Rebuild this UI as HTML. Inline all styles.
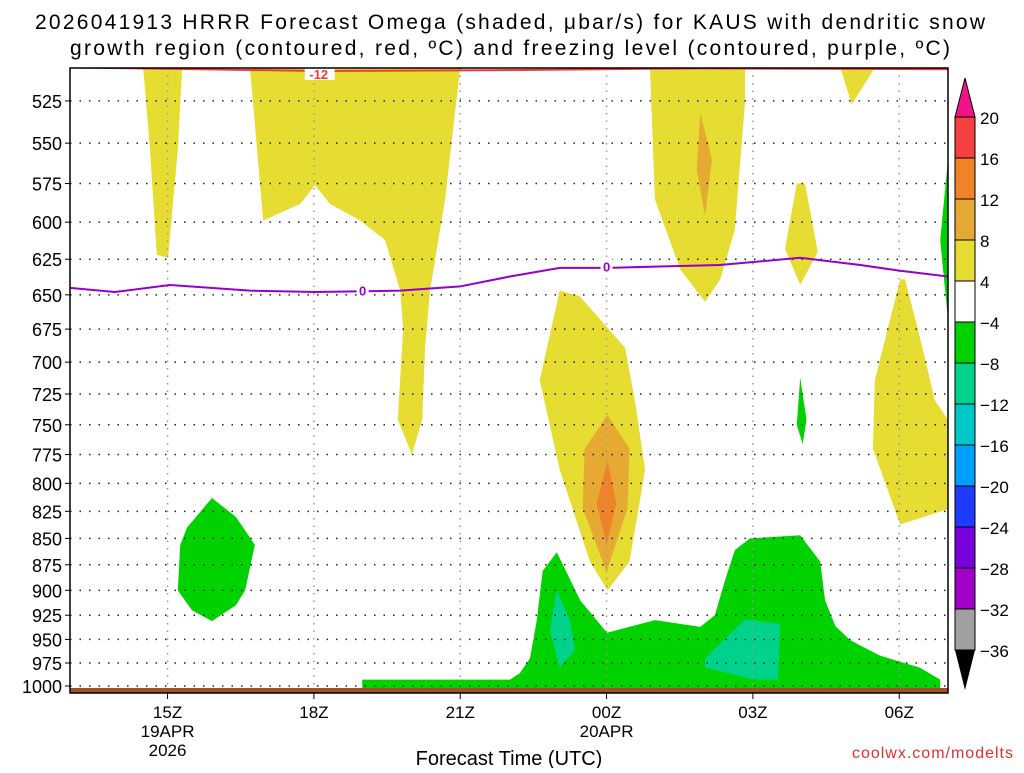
<!DOCTYPE html>
<html><head><meta charset="utf-8"><style>
body{margin:0;background:#fff;width:1024px;height:768px;overflow:hidden}
svg text{font-family:"Liberation Sans",sans-serif}
</style></head><body>
<svg id="c" width="1024" height="768"></svg>
<script>
const pressureTicks=[525,550,575,600,625,650,675,700,725,750,775,800,825,850,875,900,925,950,975,1000];
const timeTickHours=[2,5,8,11,14,17];
const timeTickLabels=["15Z","18Z","21Z","00Z","03Z","06Z"];
const cbLevels=[20,16,12,8,4,-4,-8,-12,-16,-20,-24,-28,-32,-36];
const cbColors=["#f54040","#f08228","#e6aa32","#e6dc32","#ffffff","#00d200","#00d28c","#00c8c8","#00a0ff","#1e3cff","#7800dc","#a000c8","#a0a0a0"];
const yellowShapes=[
 [[1.5,506],[2.3,506],[2.21,554],[2.01,624],[1.78,622],[1.64,554]],
 [[3.69,506],[3.96,599],[4.72,588],[5.02,576],[5.33,588],[5.95,599],[6.46,612],[6.77,647],[6.83,675],[6.72,746],[7.01,775],[7.22,746],[7.28,689],[7.38,647],[7.69,585],[8.0,506]],
 [[11.89,506],[11.99,585],[12.51,632],[13.02,655],[13.33,639],[13.63,605],[13.84,525],[13.84,506]],
 [[14.9,575],[14.66,618],[14.97,643],[15.33,620],[15.07,575]],
 [[15.79,506],[16.5,506],[16.03,527]],
 [[17.02,639],[16.5,714],[16.46,770],[17.02,837],[18,823],[18,746],[17.73,730],[17.43,682],[17.12,639]],
 [[10.04,647],[9.63,714],[10.04,788],[10.66,872],[11.02,900],[11.47,872],[11.79,788],[11.58,730],[11.38,689],[10.45,651]]
];
const amberShapes=[[[11.02,742],[10.55,770],[10.51,822],[11.0,882],[11.43,822],[11.47,770]],
 [[12.92,532],[13.16,560],[13.02,596],[12.85,566]]];
const orangeShapes=[[[11.02,780],[10.8,818],[11.0,856],[11.2,818]]];
const greenShapes=[
 [[2.91,813],[2.4,840],[2.26,856],[2.21,900],[2.5,920],[2.91,931],[3.4,915],[3.59,900],[3.79,856],[3.4,830]],
 [[5.99,1004],[5.99,993],[9.02,993],[9.22,986],[9.43,970],[9.57,930],[9.69,881],[9.98,863],[10.46,910],[11.01,943],[11.99,930],[12.92,937],[13.22,925],[13.43,890],[13.63,861],[13.94,850],[14.97,847],[15.38,872],[15.48,910],[15.69,936],[16,951],[16.6,967],[17.42,980],[17.84,993],[17.84,1004]],
 [[18,560],[17.84,612],[18,668]],
 [[14.97,712],[14.9,750],[15.02,766],[15.1,746]]
];
const tealShapes=[[[9.98,900],[9.84,940],[10.04,980],[10.35,961],[10.25,930]],
 [[13.02,970],[13.84,929],[14.56,934],[14.51,993],[14.04,993],[13.02,980]]];
const freezeHours=[0,0.92,2.05,3.69,5.02,6.77,8.0,9.02,10.04,11.07,12.09,13.32,14.97,16.2,17.02,18];
const freezeP=[645,648,643,647,648,647,644,637,631,631,630,629,624,629,633,637];
const dgzHours=[0,2.67,5.12,8.82,10.86,12.91,18];
const dgzP=[506,507,508,507.5,507,506.5,507];

const NS="http://www.w3.org/2000/svg";
const svg=document.getElementById('c');
const X0=70,X1=948;
function x(t){return X0+t*(X1-X0)/18;}
function y(p){return 686-Math.log(1000/p)*908;}
function el(tag,a,parent){const e=document.createElementNS(NS,tag);for(const k in a)e.setAttribute(k,a[k]);(parent||svg).appendChild(e);return e;}
function txt(s,a,parent){const e=el('text',a,parent);e.textContent=s;return e;}
el('rect',{x:X0,y:68,width:X1-X0,height:625,fill:'#fff'});
const clip=el('clipPath',{id:'pc'});el('rect',{x:X0,y:68,width:X1-X0,height:625},clip);
const g=el('g',{'clip-path':'url(#pc)'});
function poly(pts,fill,name){const p=el('polygon',{points:pts.map(q=>x(q[0])+','+y(q[1])).join(' '),fill:fill},g);

}
yellowShapes.forEach(s=>poly(s,'#e6dc32','omega-4-8'));
amberShapes.forEach(s=>poly(s,'#e6aa32','omega-8-12'));
orangeShapes.forEach(s=>poly(s,'#f08228','omega-12-16'));
greenShapes.forEach(s=>poly(s,'#00d200','omega-neg4-neg8'));
tealShapes.forEach(s=>poly(s,'#00d28c','omega-neg8-neg12'));
pressureTicks.forEach(p=>{const l=el('line',{x1:X0,x2:X1,y1:y(p),y2:y(p),stroke:'#222','stroke-width':1.5,'stroke-dasharray':'1.5 8'},g);

});
timeTickHours.forEach(t=>{const l=el('line',{x1:x(t),x2:x(t),y1:68,y2:693,stroke:'#999','stroke-width':1.5,'stroke-dasharray':'1.5 6'},g);

});
const fl=el('polyline',{points:freezeHours.map((t,i)=>x(t)+','+y(freezeP[i])).join(' '),fill:'none',stroke:'#9600c8','stroke-width':2},g);


const dl=el('polyline',{points:dgzHours.map((t,i)=>x(t)+','+y(dgzP[i])).join(' '),fill:'none',stroke:'#f03c3c','stroke-width':2},g);


[[6,647],[11,630]].forEach(q=>{el('rect',{x:x(q[0])-6,y:y(q[1])-8,width:12,height:15,fill:'#fff'},g);
const t=txt('0',{x:x(q[0]),y:y(q[1])+5,'text-anchor':'middle','font-size':13,'font-weight':'bold',fill:'#9600c8'},g);

});
el('rect',{x:x(5.1)-14,y:68,width:30,height:12,fill:'#fff'},g);
txt('-12',{x:x(5.1),y:79,'text-anchor':'middle','font-size':13,'font-weight':'bold',fill:'#f03c3c',},g);
el('rect',{x:X0,y:688,width:X1-X0,height:5,fill:'#a0522d',},g);
el('rect',{x:X0,y:68,width:X1-X0,height:625,fill:'none',stroke:'#000','stroke-width':1.5,});
pressureTicks.forEach(p=>{const t=txt(String(p),{x:62,y:y(p)+7,'text-anchor':'end','font-size':18,fill:'#000'});


el('line',{x1:X0-5,x2:X0,y1:y(p),y2:y(p),stroke:'#000'});});
timeTickHours.forEach((t,i)=>{el('line',{x1:x(t),x2:x(t),y1:693,y2:699,stroke:'#000'});
const e=txt(timeTickLabels[i],{x:x(t),y:718,'text-anchor':'middle','font-size':17,fill:'#000'});

});
txt('19APR',{x:x(2),y:737,'text-anchor':'middle','font-size':17,});
txt('2026',{x:x(2),y:756,'text-anchor':'middle','font-size':17,});
txt('20APR',{x:x(11),y:737,'text-anchor':'middle','font-size':17,});
txt('Forecast Time (UTC)',{x:509,y:765,'text-anchor':'middle','font-size':20,});
txt('coolwx.com/modelts',{x:1014,y:758,'text-anchor':'end','font-size':16,fill:'#e03030','letter-spacing':'1',});
txt('2026041913 HRRR Forecast Omega (shaded, \u03bcbar/s) for KAUS with dendritic snow',{x:510,y:29,'text-anchor':'middle','font-size':21,'textLength':950,});
txt('growth region (contoured, red, \u00baC) and freezing level (contoured, purple, \u00baC)',{x:510,y:55,'text-anchor':'middle','font-size':21,'textLength':880,});
const cbx=955,cbw=20,cbTop=117,cbStep=41;
el('polygon',{points:`${cbx},${cbTop} ${cbx+cbw},${cbTop} ${cbx+cbw/2},78`,fill:'#f0148c',stroke:'#000',});
cbColors.forEach((c,i)=>{const r=el('rect',{x:cbx,y:cbTop+i*cbStep,width:cbw,height:cbStep,fill:c,stroke:'#000','stroke-width':1});

});
const cbBot=cbTop+cbColors.length*cbStep;
el('polygon',{points:`${cbx},${cbBot} ${cbx+cbw},${cbBot} ${cbx+cbw/2},690`,fill:'#000',});
cbLevels.forEach((v,i)=>{const t=txt(v<0?'\u2212'+(-v):String(v),{x:980,y:cbTop+i*cbStep+7,'font-size':17});

});
</script>
</body></html>
